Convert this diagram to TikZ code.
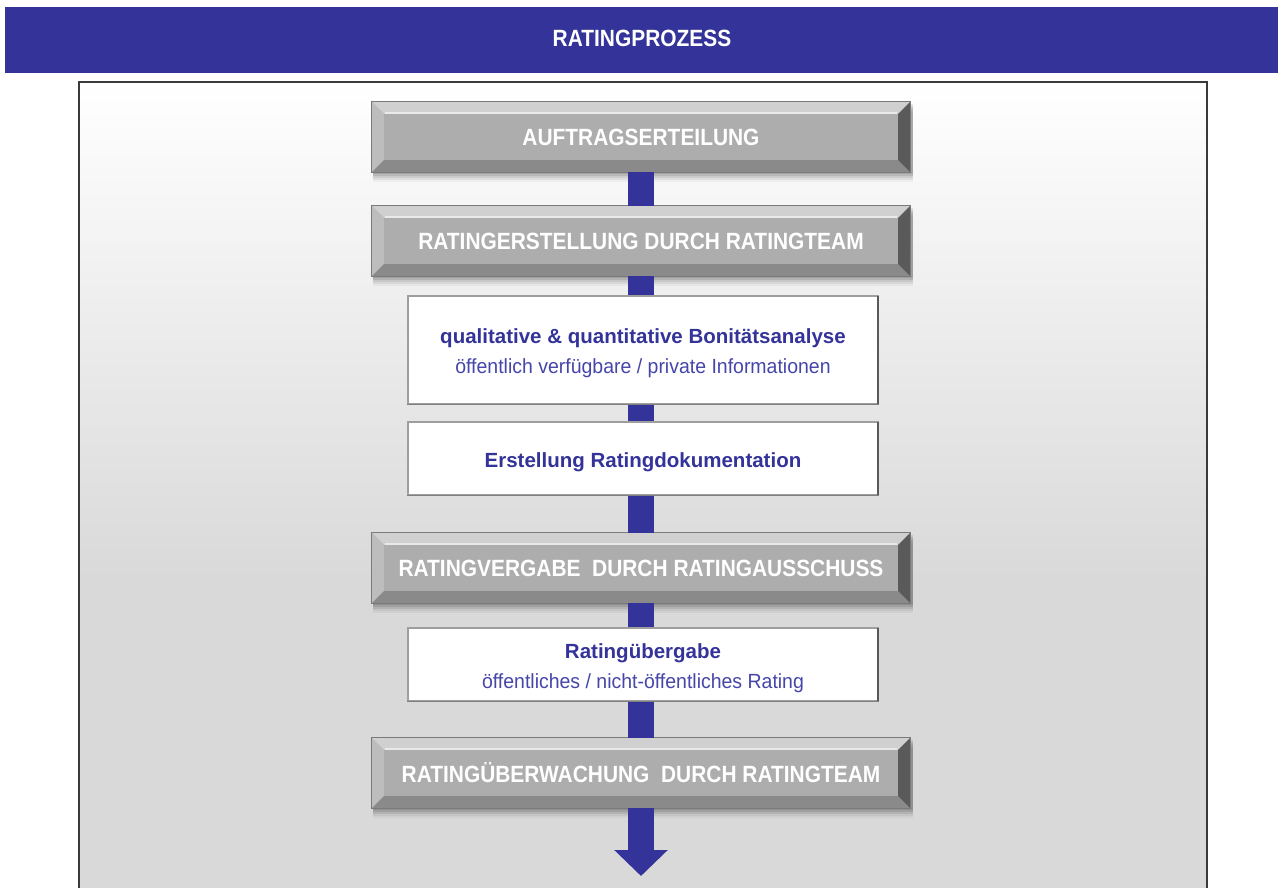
\documentclass[tikz,border=0pt]{standalone}
\usepackage{fontspec}
\setmainfont{Liberation Sans}
\newfontfamily\condfont{Liberation Sans}[FakeStretch=0.89]
\newfontfamily\subfont{Liberation Sans}[FakeStretch=0.95]
\usetikzlibrary{calc,arrows.meta}
\definecolor{band}{HTML}{333399}
\definecolor{textblue}{HTML}{333399}
\definecolor{subblue}{HTML}{4646AA}
\definecolor{gcenter}{HTML}{ADADAD}
\definecolor{gtop}{HTML}{D0D0D0}
\definecolor{gleft}{HTML}{BDBDBD}
\definecolor{gbottom}{HTML}{8A8A8A}
\definecolor{gright}{HTML}{5A5A5A}
\definecolor{gborder}{HTML}{7A7A7A}
\definecolor{framebg}{HTML}{D9D9D9}
\definecolor{frameline}{HTML}{3A3A3A}
\pgfdeclarelayer{bglayer}
\pgfdeclarelayer{shadowlayer}
\pgfsetlayers{bglayer,shadowlayer,main}
\newcommand{\twolines}[2]{{\renewcommand{\arraystretch}{1}\begin{tabular}{@{}c@{}}#1\\{\subfont\mdseries\color{subblue}#2}\end{tabular}}}
\tikzset{
  headtext/.style={text=white, font=\condfont\bfseries\fontsize{23.5}{26}\selectfont, inner sep=0pt},
  graybox/.style={fill=gcenter, draw=none, minimum width=538pt, minimum height=70pt, inner sep=0pt,
    text=white, font=\condfont\bfseries\fontsize{23.5}{26}\selectfont},
  whitebox/.style={fill=white, draw=black!38, line width=1.2pt, minimum width=470pt, minimum height=73pt,
    inner sep=0pt, text=textblue, font=\bfseries\fontsize{20.5}{30}\selectfont},
  oneline/.style={text height=18pt, text depth=0pt},
  twoline/.style={text height=16pt, text depth=0pt},
  conn/.style={draw=band, line width=26pt, line cap=butt},
}
\newcommand{\bevelize}[1]{%
  \begin{pgfonlayer}{shadowlayer}
    \foreach \s/\o in {2/0.10,4/0.10,6/0.08,8/0.06,10/0.04}{
      \fill[black, opacity=\o] ($(#1.north west)+(1,\s)$) rectangle ($(#1.south east)+(3,\s)$);
    }
  \end{pgfonlayer}
  \fill[gtop] (#1.north west) -- (#1.north east) -- ($(#1.north east)+(-12,12)$) -- ($(#1.north west)+(12,12)$) -- cycle;
  \fill[gleft] (#1.north west) -- ($(#1.north west)+(12,12)$) -- ($(#1.south west)+(12,-12)$) -- (#1.south west) -- cycle;
  \fill[gbottom] (#1.south west) -- ($(#1.south west)+(12,-12)$) -- ($(#1.south east)+(-12,-12)$) -- (#1.south east) -- cycle;
  \fill[gright] (#1.north east) -- ($(#1.north east)+(-12,12)$) -- ($(#1.south east)+(-12,-12)$) -- (#1.south east) -- cycle;
  \draw[white, opacity=0.55, line width=1.5pt] ($(#1.north west)+(13,11)$) -- ($(#1.north east)+(-13,11)$);
  \draw[gborder, line width=1pt] (#1.north west) rectangle (#1.south east);
}
\newcommand{\insetize}[1]{%
  \draw[black!65, line width=2.2pt] ($(#1.north east)+(-1,1)$) -- ($(#1.south east)+(-1,0)$);
  \draw[black!50, line width=1.2pt] (#1.south west) -- (#1.south east);
}
\begin{document}
\begin{tikzpicture}[x=1pt,y=-1pt]
\useasboundingbox (0,0) rectangle (1278,888);
\begin{pgfonlayer}{bglayer}
  \fill[white] (0,0) rectangle (1278,888);
  \fill[band] (5,7) rectangle (1278,73);
  \shade[top color=white, bottom color=framebg] (79,82) rectangle (1207,580);
  \fill[framebg] (79,579) rectangle (1207,890);
  \draw[frameline, line width=1.5pt] (79,892) -- (79,82) -- (1207,82) -- (1207,892);
\end{pgfonlayer}
\node[headtext] (title) at (642,38) {RATINGPROZESS};

\node[graybox] (g1) at (641,137) {AUFTRAGSERTEILUNG};
\node[graybox] (g2) at (641,241) {RATINGERSTELLUNG DURCH RATINGTEAM};
\node[whitebox, twoline, minimum height=108pt] (wA) at (643,350)
  {\twolines{qualitative \& quantitative Bonitätsanalyse}{öffentlich verfügbare / private Informationen}};
\node[whitebox, oneline] (wB) at (643,458.5) {Erstellung Ratingdokumentation};
\node[graybox] (g3) at (641,568) {RATINGVERGABE\ \ DURCH RATINGAUSSCHUSS};
\node[whitebox, twoline] (wC) at (643,664.5)
  {\twolines{Ratingübergabe}{öffentliches / nicht-öffentliches Rating}};
\node[graybox] (g4) at (641,773) {RATINGÜBERWACHUNG\ \ DURCH RATINGTEAM};

\foreach \n in {g1,g2,g3,g4}{\bevelize{\n}}
\foreach \n in {wA,wB,wC}{\insetize{\n}}

\coordinate (arrowend) at (641,876);
\draw[conn] (g1.south) -- (g2.north);
\draw[conn] (g2.south) -- (g2.south |- wA.north);
\draw[conn] (g2.south |- wA.south) -- (g2.south |- wB.north);
\draw[conn] (g2.south |- wB.south) -- (g3.north);
\draw[conn] (g3.south) -- (g3.south |- wC.north);
\draw[conn] (g3.south |- wC.south) -- (g4.north);
\draw[conn, -{Triangle[width=52pt,length=26pt]}] (g4.south) -- (arrowend);
\end{tikzpicture}
\end{document}
